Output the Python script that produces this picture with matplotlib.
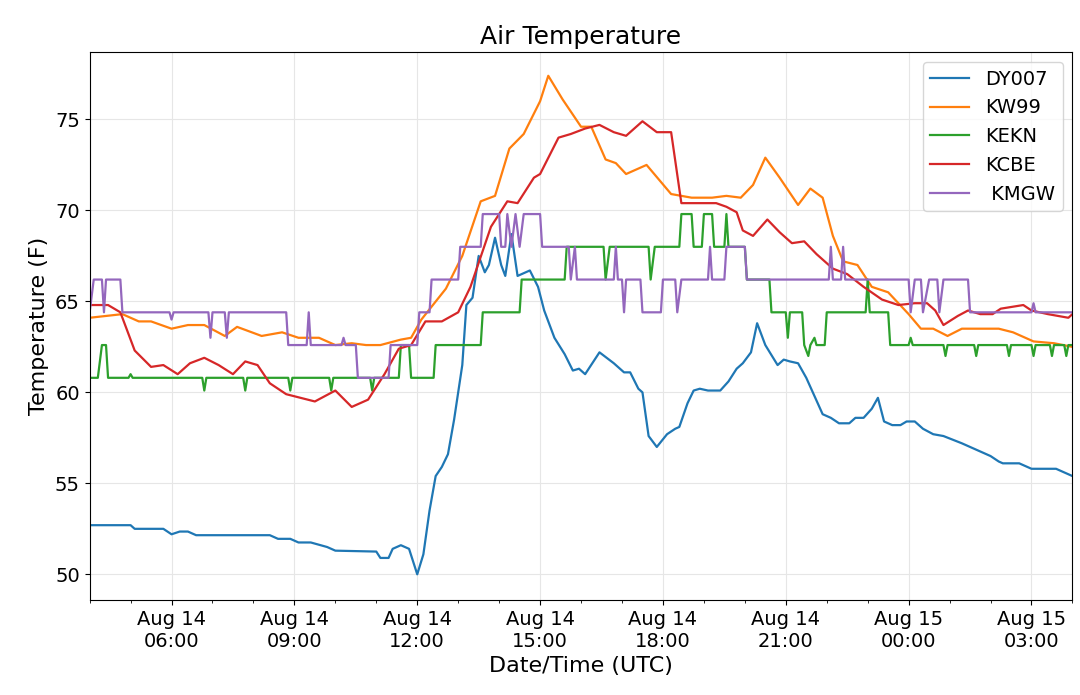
import matplotlib
matplotlib.use("Agg")
import matplotlib.pyplot as plt
import matplotlib.dates as mdates
import numpy as np
from datetime import datetime, timedelta

# hours after Aug 14 04:00 UTC, temperature (F)
dy007 = [(0,52.7),(1.0,52.7),(1.1,52.5),(1.8,52.5),(2.0,52.2),(2.2,52.35),(2.4,52.35),(2.6,52.15),(4.4,52.15),(4.6,51.95),(4.9,51.95),(5.1,51.75),(5.4,51.75),(5.8,51.5),(6.0,51.3),(7.0,51.25),(7.1,50.9),(7.3,50.9),(7.4,51.4),(7.6,51.6),(7.8,51.4),
         (8.0,50.0),(8.15,51.1),(8.3,53.5),(8.45,55.4),(8.6,55.9),(8.75,56.6),(8.9,58.5),(9.0,60.0),(9.1,61.5),(9.2,64.8),(9.35,65.2),(9.5,67.5),(9.65,66.6),(9.75,67.0),(9.9,68.5),(10.05,67.0),(10.15,66.4),(10.3,68.7),(10.45,66.4),(10.75,66.7),(10.95,65.8),(11.1,64.5),(11.35,63.0),(11.6,62.1),(11.8,61.2),(11.95,61.3),(12.1,61.0),(12.45,62.2),(12.8,61.6),(13.05,61.1),(13.2,61.1),(13.4,60.2),(13.5,60.0),(13.65,57.6),(13.85,57.0),(14.1,57.7),(14.3,58.0),(14.4,58.1),(14.6,59.4),(14.75,60.1),(14.9,60.2),(15.1,60.1),(15.4,60.1),(15.6,60.6),(15.8,61.3),(15.95,61.6),(16.15,62.2),(16.3,63.8),(16.5,62.6),(16.8,61.5),(16.95,61.8),(17.1,61.7),(17.3,61.6),(17.5,60.8),(17.7,59.8),(17.9,58.8),(18.1,58.6),(18.3,58.3),(18.55,58.3),(18.7,58.6),(18.9,58.6),(19.1,59.1),(19.25,59.7),(19.4,58.4),(19.6,58.2),(19.8,58.2),(19.95,58.4),(20.15,58.4),(20.35,58.0),(20.6,57.7),(20.85,57.6),(21.3,57.2),(21.8,56.7),(22.0,56.5),(22.2,56.2),(22.3,56.1),(22.7,56.1),(23.0,55.8),(23.6,55.8),(23.8,55.6),(24.0,55.4)]

kw99 = [(0,64.1),(0.8,64.3),(1.2,63.9),(1.5,63.9),(2.0,63.5),(2.4,63.7),(2.8,63.7),(3.3,63.1),(3.6,63.6),(4.2,63.1),(4.7,63.3),(5.1,63.0),(5.6,63.0),(6.0,62.6),(6.4,62.7),(6.75,62.6),(7.1,62.6),(7.6,62.9),(7.85,63.0),(8.1,64.0),(8.7,65.7),(9.1,67.5),(9.55,70.5),(9.9,70.8),(10.25,73.4),(10.6,74.2),(11.0,76.0),(11.2,77.4),(11.55,76.1),(12.0,74.6),(12.25,74.6),(12.6,72.8),(12.85,72.6),(13.1,72.0),(13.6,72.5),(14.2,70.9),(14.7,70.7),(15.2,70.7),(15.55,70.8),(15.9,70.7),(16.2,71.4),(16.5,72.9),(16.85,71.8),(17.3,70.3),(17.6,71.2),(17.9,70.7),(18.15,68.6),(18.4,67.2),(18.75,67.0),(19.1,65.8),(19.5,65.5),(20.0,64.3),(20.3,63.5),(20.6,63.5),(20.95,63.1),(21.3,63.5),(22.2,63.5),(22.55,63.3),(23.05,62.8),(23.55,62.7),(24.0,62.5)]

kekn = [(0,60.8),(0.2,60.8),(0.3,62.6),(0.4,62.6),(0.45,60.8),(0.95,60.8),(1.0,61.0),(1.05,60.8),(2.75,60.8),(2.8,60.1),(2.85,60.8),(3.75,60.8),(3.8,60.1),(3.85,60.8),(4.85,60.8),(4.9,60.1),(4.95,60.8),(5.85,60.8),(5.9,60.1),(5.95,60.8),(6.85,60.8),(6.9,60.1),(6.95,60.8),(7.55,60.8),(7.6,62.6),(7.8,62.6),(7.85,60.8),(8.4,60.8),(8.45,62.6),(9.55,62.6),(9.6,64.4),(10.5,64.4),(10.55,66.2),(11.6,66.2),(11.65,68.0),(12.55,68.0),(12.6,66.2),(12.7,68.0),(13.65,68.0),(13.7,66.2),(13.8,68.0),(14.4,68.0),(14.45,69.8),(14.7,69.8),(14.75,68.0),(14.95,68.0),(15.0,69.8),(15.2,69.8),(15.25,68.0),(15.5,68.0),(15.55,69.8),(15.6,68.0),(16.0,68.0),(16.05,66.2),(16.6,66.2),(16.65,64.4),(17.0,64.4),(17.05,63.0),(17.1,64.4),(17.4,64.4),(17.45,62.6),(17.55,62.0),(17.6,62.6),(17.7,63.0),(17.75,62.6),(17.95,62.6),(18.0,64.4),(18.95,64.4),(19.0,66.2),(19.05,64.4),(19.5,64.4),(19.55,62.6),(20.0,62.6),(20.05,63.0),(20.1,62.6),(20.85,62.6),(20.9,62.0),(20.95,62.6),(21.6,62.6),(21.65,62.0),(21.7,62.6),(22.4,62.6),(22.45,62.0),(22.5,62.6),(23.0,62.6),(23.05,62.0),(23.1,62.6),(23.45,62.6),(23.5,62.0),(23.55,62.6),(23.8,62.6),(23.85,62.0),(23.9,62.6),(24.0,62.6)]

kcbe = [(0,64.8),(0.45,64.8),(0.75,64.4),(1.1,62.3),(1.5,61.4),(1.8,61.5),(2.15,61.0),(2.45,61.6),(2.8,61.9),(3.15,61.5),(3.5,61.0),(3.8,61.7),(4.1,61.5),(4.4,60.5),(4.8,59.9),(5.5,59.5),(6.0,60.1),(6.4,59.2),(6.8,59.6),(7.2,61.0),(7.55,62.4),(7.85,62.6),(8.2,63.9),(8.6,63.9),(9.0,64.4),(9.3,65.8),(9.8,69.1),(10.2,70.5),(10.45,70.4),(10.85,71.8),(11.0,72.0),(11.45,74.0),(11.75,74.2),(12.1,74.5),(12.45,74.7),(12.8,74.3),(13.1,74.1),(13.5,74.9),(13.85,74.3),(14.2,74.3),(14.45,70.4),(15.3,70.4),(15.55,70.2),(15.8,69.9),(15.95,68.9),(16.2,68.6),(16.55,69.5),(16.85,68.8),(17.15,68.2),(17.45,68.3),(17.75,67.6),(18.15,66.8),(18.5,66.5),(18.9,65.8),(19.35,65.1),(19.75,64.8),(20.15,64.9),(20.45,64.9),(20.65,64.5),(20.85,63.7),(21.2,64.2),(21.45,64.5),(21.75,64.3),(22.05,64.3),(22.25,64.6),(22.8,64.8),(23.0,64.5),(23.4,64.3),(23.9,64.1),(24.0,64.3)]

kmgw = [(0,64.4),(0.1,66.2),(0.3,66.2),(0.35,64.4),(0.4,66.2),(0.75,66.2),(0.8,64.4),(1.95,64.4),(2.0,64.0),(2.05,64.4),(2.9,64.4),(2.95,63.0),(3.0,64.4),(3.3,64.4),(3.35,63.0),(3.4,64.4),(4.8,64.4),(4.85,62.6),(5.3,62.6),(5.35,64.4),(5.4,62.6),(6.15,62.6),(6.2,63.0),(6.25,62.6),(6.5,62.6),(6.55,60.8),(7.3,60.8),(7.35,62.6),(8.0,62.6),(8.05,64.4),(8.3,64.4),(8.35,66.2),(9.0,66.2),(9.05,68.0),(9.55,68.0),(9.6,69.8),(10.0,69.8),(10.05,68.0),(10.15,68.0),(10.2,69.8),(10.3,68.0),(10.4,69.8),(10.5,68.0),(10.6,69.8),(11.0,69.8),(11.05,68.0),(11.7,68.0),(11.75,66.2),(11.85,68.0),(11.9,66.2),(12.8,66.2),(12.85,68.0),(12.9,66.2),(13.0,66.2),(13.05,64.4),(13.1,66.2),(13.45,66.2),(13.5,64.4),(13.95,64.4),(14.0,66.2),(14.3,66.2),(14.35,64.4),(14.45,66.2),(15.1,66.2),(15.15,68.0),(15.2,66.2),(15.5,66.2),(15.55,68.0),(16.0,68.0),(16.05,66.2),(18.05,66.2),(18.1,68.0),(18.15,66.2),(18.35,66.2),(18.4,68.0),(18.45,66.2),(20.0,66.2),(20.05,64.4),(20.15,66.2),(20.3,66.2),(20.35,64.4),(20.5,66.2),(20.7,66.2),(20.75,64.4),(20.85,66.2),(21.45,66.2),(21.5,64.4),(23.0,64.4),(23.05,64.9),(23.1,64.4),(24.0,64.4)]

series = [("DY007", dy007, "#1f77b4"), ("KW99", kw99, "#ff7f0e"), ("KEKN", kekn, "#2ca02c"),
          ("KCBE", kcbe, "#d62728"), (" KMGW", kmgw, "#9467bd")]
start = datetime(2019, 8, 14, 4, 0)

plt.rcParams['font.family'] = ['DejaVu Sans']
fig = plt.figure(figsize=(10.8, 6.95), dpi=100)
ax = fig.add_axes([0.083, 0.137, 0.91, 0.788])
for name, data, col in series:
    h, v = zip(*data)
    t = [start + timedelta(hours=x) for x in h]
    ax.plot(t, v, color=col, lw=1.6, label=name)

ax.set_xlim(start, start + timedelta(hours=24))
ax.set_ylim(48.6, 78.7)
ax.xaxis.set_major_locator(mdates.HourLocator(byhour=[0, 3, 6, 9, 12, 15, 18, 21]))
ax.xaxis.set_minor_locator(mdates.HourLocator())
ax.xaxis.set_major_formatter(mdates.DateFormatter("%b %d\n%H:%M"))
ax.set_yticks([50, 55, 60, 65, 70, 75])
ax.tick_params(labelsize=14)
ax.grid(True, color="#e6e6e6", lw=0.8)
ax.set_title("Air Temperature", fontsize=18)
ax.set_xlabel("Date/Time (UTC)", fontsize=16)
ax.set_ylabel("Temperature (F)", fontsize=16)
ax.legend(loc="upper right", fontsize=14)
fig.savefig("out.png", dpi=100)
